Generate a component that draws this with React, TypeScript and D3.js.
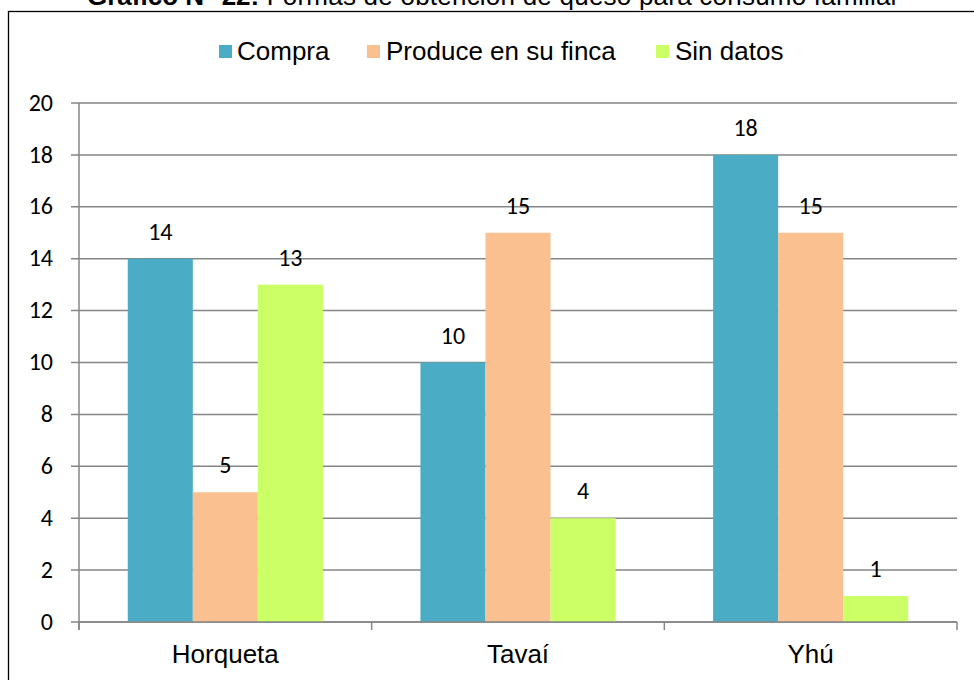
import React from "react";
import * as d3 from "d3";

const categories = ["Horqueta", "Tavaí", "Yhú"];
const seriesNames = ["Compra", "Produce en su finca", "Sin datos"];
const compra = [14, 10, 18];
const produce = [5, 15, 15];
const sinDatos = [13, 4, 1];
const yTicks = [0, 2, 4, 6, 8, 10, 12, 14, 16, 18, 20];
const colors = ["#4BACC6", "#FAC090", "#CCFF66"];

const W = 974;
const H = 680;
const plotLeft = 79;
const plotRight = 957;
const plotTop = 103;
const plotBottom = 622;

export default function App() {
  const series = [compra, produce, sinDatos];
  const x = d3.scaleBand<string>().domain(categories).range([plotLeft, plotRight]).paddingInner(0).paddingOuter(0);
  const bw = x.bandwidth();
  const barW = bw / 4.5;
  const y = d3.scaleLinear().domain([0, 20]).range([plotBottom, plotTop]);
  const numFont = "Carlito, Calibri, Lato, sans-serif";
  const arial = "'Liberation Sans', Arial, sans-serif";
  const grid = "#868686";

  const legendItems = [
    { name: seriesNames[0], sq: 219, tx: 237 },
    { name: seriesNames[1], sq: 367, tx: 386 },
    { name: seriesNames[2], sq: 656, tx: 675 },
  ];

  return (
    <svg width={W} height={H} style={{ position: "absolute", left: 0, top: 0, background: "#fff" }}>
      <rect x={0} y={0} width={W} height={H} fill="#fff" />
      {/* title */}
      <text x={87} y={5} textAnchor="start" fontFamily={arial} fontSize={26} fill="#000">
        <tspan fontWeight="bold">Gráfico N° 22:</tspan>
        <tspan textLength={640} lengthAdjust="spacing"> Formas de obtención de queso  para consumo familiar</tspan>
      </text>
      {/* border */}
      <rect x={8.5} y={11.5} width={W + 10} height={H + 10} fill="none" stroke="#000" strokeWidth={1.3} />
      {/* legend */}
      {legendItems.map((it, i) => (
        <g key={it.name}>
          <rect x={it.sq} y={45} width={13} height={13} fill={colors[i]} />
          <text x={it.tx} y={60} fontFamily={arial} fontSize={26} fill="#000">{it.name}</text>
        </g>
      ))}
      {/* gridlines */}
      {yTicks.map((t) => (
        <g key={t}>
          <line x1={plotLeft - 8} x2={plotRight} y1={y(t)} y2={y(t)} stroke={grid} strokeWidth={1.5} />
          <text x={53} y={y(t)} dy="0.32em" textAnchor="end" fontFamily={numFont} fontSize={24} fill="#000">{t}</text>
        </g>
      ))}
      {/* bars */}
      {categories.map((c, ci) => (
        <g key={c}>
          {series.map((s, si) => {
            const bx = (x(c) as number) + barW * 0.75 + si * barW;
            return (
              <g key={si}>
                <rect x={bx} y={y(s[ci])} width={barW} height={plotBottom - y(s[ci])} fill={colors[si]} />
                <text x={bx + barW / 2} y={y(s[ci]) - 19} textAnchor="middle" fontFamily={numFont} fontSize={24} fill="#000">{s[ci]}</text>
              </g>
            );
          })}
        </g>
      ))}
      {/* axes */}
      <line x1={plotLeft} x2={plotLeft} y1={plotTop} y2={plotBottom + 8} stroke={grid} strokeWidth={1.5} />
      <line x1={plotLeft} x2={plotRight} y1={plotBottom} y2={plotBottom} stroke={grid} strokeWidth={1.5} />
      {[...categories.map((c) => x(c) as number), plotRight].map((v, i) => (
        <line key={i} x1={v} x2={v} y1={plotBottom} y2={plotBottom + 8} stroke={grid} strokeWidth={1.5} />
      ))}
      {categories.map((c) => (
        <text key={c} x={(x(c) as number) + bw / 2} y={663} textAnchor="middle" fontFamily={arial} fontSize={26} fill="#000">{c}</text>
      ))}
    </svg>
  );
}
